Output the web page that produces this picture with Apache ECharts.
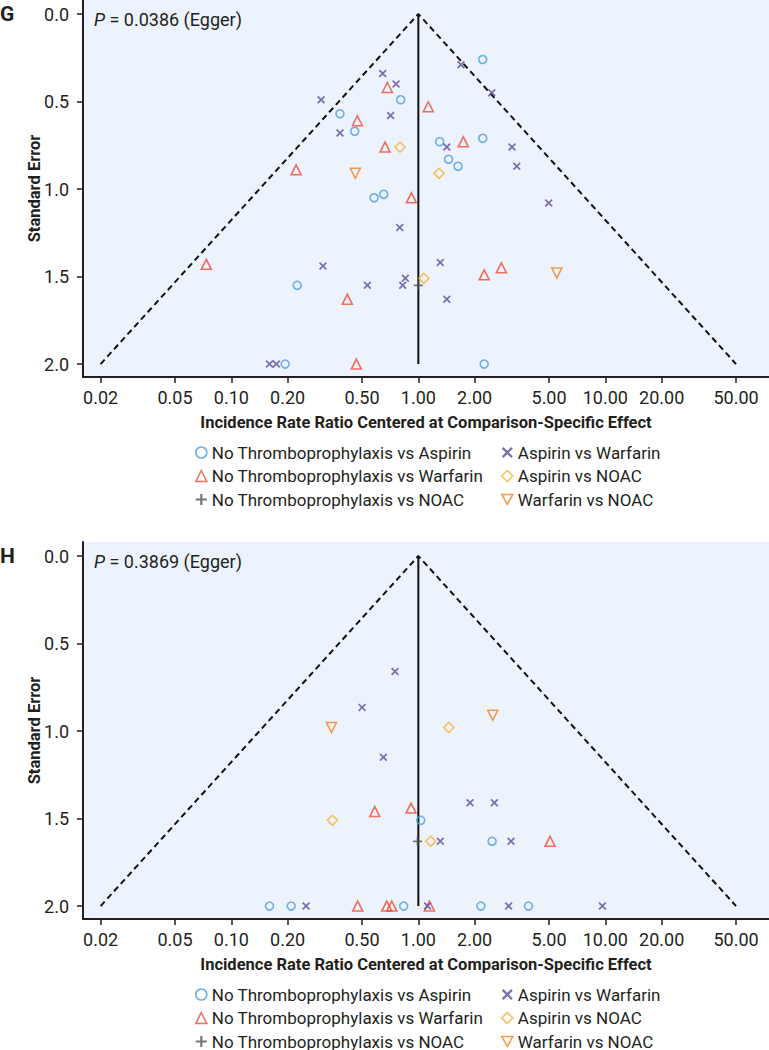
<!DOCTYPE html>
<html>
<head>
<meta charset="utf-8">
<script src="https://cdn.jsdelivr.net/npm/echarts@6/dist/echarts.min.js"></script>
<style>
  html, body { margin: 0; padding: 0; background: #fff; }
  #chart { width: 769px; height: 1050px; }
</style>
</head>
<body>
<div id="chart"></div>
<script>
// axis ticks
const xTicks = [0.02, 0.05, 0.1, 0.2, 0.5, 1, 2, 5, 10, 20, 50]
const yTicks = [0, 0.5, 1, 1.5, 2]

const seriesNames = [
  'No Thromboprophylaxis vs Aspirin',
  'No Thromboprophylaxis vs Warfarin',
  'No Thromboprophylaxis vs NOAC',
  'Aspirin vs Warfarin',
  'Aspirin vs NOAC',
  'Warfarin vs NOAC'
]

// panel G, points as [incidence rate ratio, standard error]
const gNoVsAspirin = [[2.21, 0.26], [0.805, 0.49], [0.381, 0.57], [0.457, 0.67], [1.30, 0.73], [2.21, 0.71],
  [1.45, 0.83], [1.63, 0.87], [0.58, 1.05], [0.653, 1.03], [0.225, 1.55], [0.194, 2.0], [2.25, 2.0]]
const gNoVsWarfarin = [[0.683, 0.42], [0.472, 0.61], [1.13, 0.53], [0.664, 0.76], [1.74, 0.73], [0.222, 0.89],
  [0.918, 1.05], [0.0735, 1.43], [2.25, 1.49], [2.78, 1.45], [0.417, 1.63], [0.466, 2.0]]
const gNoVsNoac = [[1.0, 1.55]]
const gAspirinVsWarfarin = [[0.302, 0.49], [0.645, 0.34], [0.76, 0.40], [0.711, 0.58], [0.381, 0.68], [1.69, 0.29],
  [2.47, 0.45], [1.42, 0.76], [3.17, 0.76], [3.36, 0.87], [4.98, 1.08], [0.795, 1.22], [0.309, 1.44], [0.534, 1.55],
  [0.852, 1.51], [0.825, 1.55], [1.31, 1.42], [1.42, 1.63], [0.16, 2.0], [0.174, 2.0]]
const gAspirinVsNoac = [[0.798, 0.76], [1.29, 0.91], [1.07, 1.51]]
const gWarfarinVsNoac = [[0.46, 0.91], [5.5, 1.48]]

// panel H
const hNoVsAspirin = [[1.03, 1.51], [2.48, 1.63], [0.16, 2.0], [0.209, 2.0], [0.835, 2.0], [2.16, 2.0], [3.88, 2.0]]
const hNoVsWarfarin = [[0.585, 1.46], [0.914, 1.44], [5.06, 1.63], [0.474, 2.0], [0.678, 2.0], [0.721, 2.0], [1.146, 2.0]]
const hNoVsNoac = [[0.99, 1.63]]
const hAspirinVsWarfarin = [[0.75, 0.66], [0.5, 0.865], [0.65, 1.15], [1.89, 1.41], [2.55, 1.41], [1.31, 1.63],
  [3.13, 1.63], [0.251, 2.0], [1.12, 2.0], [3.04, 2.0], [9.64, 2.0]]
const hAspirinVsNoac = [[1.454, 0.98], [0.347, 1.51], [1.165, 1.63]]
const hWarfarinVsNoac = [[0.343, 0.98], [2.5, 0.91]]

const funnelLine = [[0.02, 2], [1, 0], [50, 2]]
const centerLine = [[1, 0], [1, 2]]
const panelLabels = ['G', 'H']
const eggerP = ['0.0386', '0.3869']

const FONT = 'Roboto, "Open Sans", sans-serif'
const INK = '#231F20'
const PLUS = 'path://M4,0H6V4H10V6H6V10H4V6H0V4H4Z'
const CROSS = 'path://M0,1.5L1.5,0L5,3.5L8.5,0L10,1.5L6.5,5L10,8.5L8.5,10L5,6.5L1.5,10L0,8.5L3.5,5Z'
const TRI_DOWN = 'path://M0,0L10,0L5,9Z'

// marker look for each comparison
const markerStyles = [
  { symbol: 'circle', symbolSize: 8, itemStyle: { color: 'rgba(0,0,0,0)', borderColor: '#4C9FDE', borderWidth: 1.6 } },
  { symbol: 'triangle', symbolSize: 10, itemStyle: { color: 'rgba(0,0,0,0)', borderColor: '#F04E37', borderWidth: 1.6 } },
  { symbol: PLUS, symbolSize: 9, itemStyle: { color: '#555555', borderWidth: 0 } },
  { symbol: CROSS, symbolSize: 8, itemStyle: { color: '#5A4E9E', borderWidth: 0 } },
  { symbol: 'diamond', symbolSize: 10, itemStyle: { color: 'rgba(0,0,0,0)', borderColor: '#F9B234', borderWidth: 1.6 } },
  { symbol: TRI_DOWN, symbolSize: 10, itemStyle: { color: 'rgba(0,0,0,0)', borderColor: '#F5821F', borderWidth: 1.6 } }
]

const panels = [
  [gNoVsAspirin, gNoVsWarfarin, gNoVsNoac, gAspirinVsWarfarin, gAspirinVsNoac, gWarfarinVsNoac],
  [hNoVsAspirin, hNoVsWarfarin, hNoVsNoac, hAspirinVsWarfarin, hAspirinVsNoac, hWarfarinVsNoac]
]

const gridTops = [0, 542]
const PLOT_H = 377

const chart = echarts.init(document.getElementById('chart'), null, { renderer: 'svg' })

const grids = []
const xAxes = []
const yAxes = []
const series = []
const legends = []
const graphics = []

panels.forEach((panel, p) => {
  grids.push({
    left: 83, top: gridTops[p], width: 686, height: PLOT_H,
    show: true, backgroundColor: '#ECF3FC', borderWidth: 0
  })
  xAxes.push({
    gridIndex: p,
    type: 'log',
    logBase: 10,
    min: 0.0161,
    max: 75,
    name: 'Incidence Rate Ratio Centered at Comparison-Specific Effect',
    nameLocation: 'middle',
    nameGap: 37,
    nameMoveOverlap: false,
    nameTextStyle: { fontFamily: FONT, fontSize: 16.5, fontWeight: 'bold', color: INK },
    axisLine: { onZero: false, lineStyle: { color: INK, width: 2 } },
    axisTick: { show: true, length: 6, lineStyle: { color: INK, width: 1.5 }, customValues: xTicks },
    axisLabel: {
      customValues: xTicks,
      margin: 11,
      fontFamily: FONT, fontSize: 18, color: INK,
      formatter: v => Number(v).toFixed(2)
    },
    splitLine: { show: false }
  })
  yAxes.push({
    gridIndex: p,
    type: 'value',
    inverse: true,
    min: -0.08,
    max: 2.074,
    name: 'Standard Error',
    nameLocation: 'middle',
    nameGap: 40,
    nameMoveOverlap: false,
    nameTextStyle: { fontFamily: FONT, fontSize: 16.5, fontWeight: 'bold', color: INK },
    axisLine: { show: true, onZero: false, lineStyle: { color: INK, width: 2 } },
    axisTick: { show: true, length: 6, lineStyle: { color: INK, width: 1.5 }, customValues: yTicks },
    axisLabel: {
      customValues: yTicks,
      margin: 14,
      fontFamily: FONT, fontSize: 18, color: INK,
      formatter: v => Number(v).toFixed(1)
    },
    splitLine: { show: false }
  })

  // funnel and center line
  series.push({
    type: 'line', xAxisIndex: p, yAxisIndex: p, data: funnelLine,
    symbol: 'none', silent: true, z: 1,
    lineStyle: { color: '#111', width: 2, type: [6, 4] }
  })
  series.push({
    type: 'line', xAxisIndex: p, yAxisIndex: p, data: centerLine,
    symbol: 'none', silent: true, z: 1,
    lineStyle: { color: '#111', width: 2 }
  })

  panel.forEach((pts, i) => {
    series.push(Object.assign({
      type: 'scatter',
      name: seriesNames[i],
      xAxisIndex: p, yAxisIndex: p,
      data: pts,
      z: 3
    }, markerStyles[i]))
  })

  // two-column legend below each panel
  const legendTop = gridTops[p] + 444
  ;[[0, 195], [3, 501]].forEach(([start, left]) => {
    legends.push({
      orient: 'vertical',
      left: left,
      top: legendTop,
      height: 72,
      padding: 0,
      itemWidth: 11,
      itemHeight: 11,
      itemGap: 6.5,
      selectedMode: false,
      textStyle: { fontFamily: FONT, fontSize: 17, color: INK, lineHeight: 17 },
      data: seriesNames.slice(start, start + 3).map((name, k) => ({
        name: name,
        itemStyle: { borderWidth: markerStyles[start + k].itemStyle.borderWidth }
      }))
    })
  })

  graphics.push({
    type: 'text', left: 0, top: gridTops[p] + 3,
    style: { text: panelLabels[p], fontFamily: FONT, fontSize: 21, fontWeight: 'bold', fill: INK }
  })
  graphics.push({
    type: 'text', left: 94, top: gridTops[p] + 10,
    style: {
      text: '{i|P} = ' + eggerP[p] + ' (Egger)',
      fontFamily: FONT, fontSize: 18, fill: INK,
      rich: { i: { fontFamily: FONT, fontSize: 18, fontStyle: 'italic', fill: INK } }
    }
  })
})

chart.setOption({
  animation: false,
  grid: grids,
  xAxis: xAxes,
  yAxis: yAxes,
  legend: legends,
  graphic: graphics,
  series: series
})
</script>
</body>
</html>
